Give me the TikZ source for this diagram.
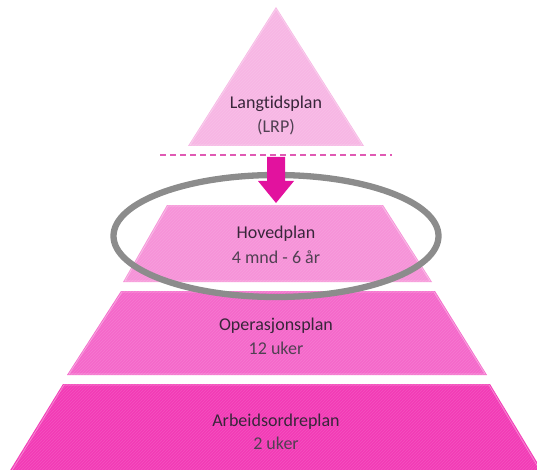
\documentclass[tikz,border=0pt]{standalone}
\usepackage{fontspec}
\setmainfont{Carlito}[Ligatures=NoCommon]
\usetikzlibrary{patterns,shapes.geometric}
\definecolor{tierA}{HTML}{F7B6E4}
\definecolor{tierB}{HTML}{F692D8}
\definecolor{tierC}{HTML}{F468CA}
\definecolor{tierD}{HTML}{F23BB6}
\definecolor{arrowpink}{HTML}{E2129E}
\definecolor{dashpink}{HTML}{E05AB4}
\definecolor{ringgray}{HTML}{8C8C8C}
\definecolor{labeltext}{HTML}{38263A}
\tikzset{
  tier/.style={line width=0.8pt, line join=miter},
  stripes/.style={pattern=north east lines, pattern color=white, opacity=0.12},
  tiername/.style={font=\fontsize{18}{21}\selectfont, text=labeltext, align=center},
  tierspan/.style={font=\fontsize{18}{21}\selectfont, text=labeltext!88, align=center},
}
\begin{document}
\begin{tikzpicture}[x=1pt,y=-1pt]
\useasboundingbox (0,0) rectangle (537,470);
\clip (0,0) rectangle (537,470);

% top triangle: long-term plan
\fill[tierA] (276,7) -- (364,146) -- (188,146) -- cycle;
\draw[tier, draw=tierA!70!white] (276,9) -- (362,145) -- (190,145) -- cycle;
\fill[stripes] (276,7) -- (364,146) -- (188,146) -- cycle;

% tier 2: main plan
\fill[tierB] (167,205) -- (383,205) -- (432,282) -- (123,282) -- cycle;
\draw[tier, draw=tierB!65!white] (168,206) -- (382,206) -- (430,281) -- (125,281) -- cycle;
\fill[stripes] (167,205) -- (383,205) -- (432,282) -- (123,282) -- cycle;

% tier 3: operations plan
\fill[tierC] (121,291) -- (435,291) -- (487,375) -- (67,375) -- cycle;
\draw[tier, draw=tierC!65!white] (122,292) -- (434,292) -- (485,374) -- (69,374) -- cycle;
\fill[stripes] (121,291) -- (435,291) -- (487,375) -- (67,375) -- cycle;

% tier 4: work order plan
\fill[tierD] (63,384) -- (490,384) -- (543,472) -- (9,472) -- cycle;
\draw[tier, draw=tierD!65!white] (64,385) -- (489,385) -- (541,472) -- (11,472) -- cycle;
\fill[stripes] (63,384) -- (490,384) -- (543,472) -- (9,472) -- cycle;

% dashed separator
\coordinate (sepL) at (160,155);
\coordinate (sepR) at (392,155);
\draw[dashpink, line width=1.3pt, dash pattern=on 6pt off 4pt] (sepL) -- (sepR);

% highlight ring around the main plan
\node[draw=ringgray, line width=6.3pt, ellipse, minimum width=325pt, minimum height=122pt, inner sep=0pt] (ring) at (276,236) {};

% block arrow down into the main plan
\fill[arrowpink] (267,157) -- (285,157) -- (285,181) -- (294,181) -- (276,203) -- (258,181) -- (267,181) -- cycle;

% labels
\node[tiername] (lrp) at (276,104) {Langtidsplan};
\node[tierspan] (lrpb) at (276,127) {(LRP)};
\node[tiername] (hp) at (276,234) {Hovedplan};
\node[tierspan] (hpb) at (276,257) {4 mnd - 6 år};
\node[tiername] (op) at (276,326) {Operasjonsplan};
\node[tierspan] (opb) at (276,348) {12 uker};
\node[tiername] (ao) at (276,422) {Arbeidsordreplan};
\node[tierspan] (aob) at (276,443) {2 uker};
\end{tikzpicture}
\end{document}
